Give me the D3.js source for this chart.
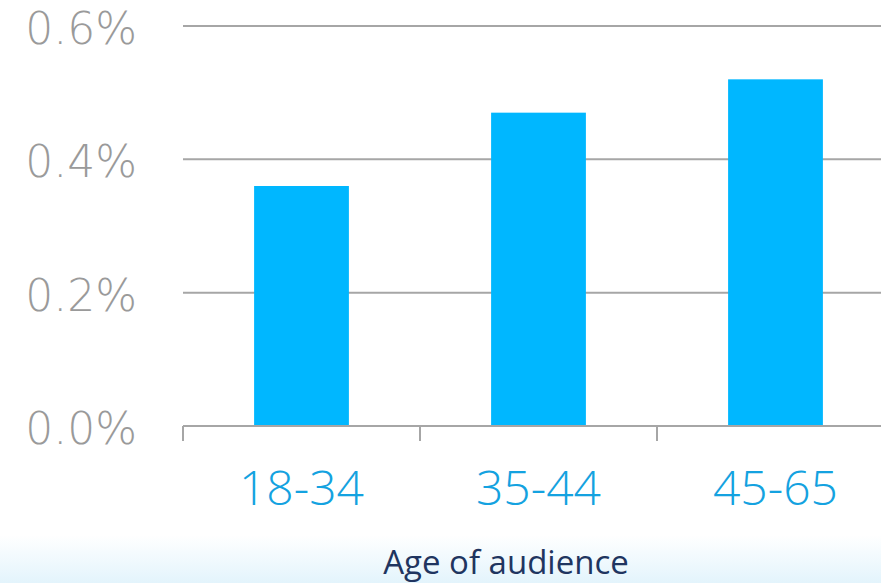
<!DOCTYPE html>
<html>
<head>
<meta charset="utf-8">
<script src="https://cdn.jsdelivr.net/npm/d3@7"></script>
<style>
    body { margin: 0; background: #fff; }
    svg { display: block; }
    .ylabel { font-family: "DejaVu Sans", sans-serif; font-weight: 200; fill: #9a9a9a; }
    .xlabel { font-family: "Open Sans", sans-serif; font-weight: 300; fill: #14a2e0; }
    .axistitle { font-family: "Open Sans", sans-serif; font-weight: 400; fill: #1f3560; }
</style>
</head>
<body>
<div id="vis"></div>
<script>

// Data ------------------------------------------------------------------------

const AGE_GROUPS = ["18-34", "35-44", "45-65"];
const SHARE = [0.36, 0.47, 0.52];
const Y_TICKS = [0, 0.2, 0.4, 0.6];

// Chart -----------------------------------------------------------------------

const W = 881;
const H = 583;
const margin = {top: 26, right: -13, bottom: 157, left: 183};
const width = W - margin.left - margin.right;
const height = H - margin.top - margin.bottom;

const svg = d3.select("#vis")
    .append("svg")
    .attr("width", W)
    .attr("height", H);

// Soft blue fade along the bottom edge
const grad = svg.append("defs")
    .append("linearGradient")
    .attr("id", "fade")
    .attr("x1", 0).attr("y1", 0)
    .attr("x2", 0).attr("y2", 1);
grad.append("stop").attr("offset", "0%").attr("stop-color", "#ffffff");
grad.append("stop").attr("offset", "100%").attr("stop-color", "#e3f4fc");

svg.append("rect")
    .attr("x", 0)
    .attr("y", 535)
    .attr("width", W)
    .attr("height", H - 535)
    .attr("fill", "url(#fade)");

const vis = svg.append("g")
    .attr("transform", `translate(${margin.left},${margin.top})`);

const xscale = d3.scaleBand()
    .domain(AGE_GROUPS)
    .range([0, width])
    .paddingInner(0.6)
    .paddingOuter(0.3);

const yscale = d3.scaleLinear()
    .domain([0, 0.6])
    .range([height, 0]);

// Gridlines
vis.selectAll(".grid")
    .data(Y_TICKS.slice(1))
    .enter()
    .append("line")
    .attr("class", "grid")
    .attr("x1", 0)
    .attr("x2", width)
    .attr("y1", d => yscale(d))
    .attr("y2", d => yscale(d))
    .attr("stroke", "#a6a6a6")
    .attr("stroke-width", 2);

// Y labels
vis.selectAll(".ylabel")
    .data(Y_TICKS)
    .enter()
    .append("text")
    .attr("class", "ylabel")
    .attr("x", -46)
    .attr("y", d => yscale(d) + 18)
    .attr("text-anchor", "end")
    .style("font-size", "44px")
    .text(d => d.toFixed(1) + "%");

// Bars
vis.selectAll(".bar")
    .data(AGE_GROUPS)
    .enter()
    .append("rect")
    .attr("class", "bar")
    .attr("x", d => xscale(d))
    .attr("width", xscale.bandwidth())
    .attr("y", (d, i) => yscale(SHARE[i]))
    .attr("height", (d, i) => height - yscale(SHARE[i]))
    .attr("fill", "#00b7ff");

// X axis line and band boundary ticks
const xaxis = vis.append("g")
    .attr("transform", `translate(0,${height})`);

xaxis.append("line")
    .attr("x1", 0)
    .attr("x2", width)
    .attr("stroke", "#a6a6a6")
    .attr("stroke-width", 2);

xaxis.selectAll(".tick")
    .data(d3.range(AGE_GROUPS.length + 1))
    .enter()
    .append("line")
    .attr("class", "tick")
    .attr("x1", i => i * xscale.step())
    .attr("x2", i => i * xscale.step())
    .attr("y1", 0)
    .attr("y2", 15)
    .attr("stroke", "#a6a6a6")
    .attr("stroke-width", 2);

xaxis.selectAll(".xlabel")
    .data(AGE_GROUPS)
    .enter()
    .append("text")
    .attr("class", "xlabel")
    .attr("x", d => xscale(d) + xscale.bandwidth() / 2)
    .attr("y", 79)
    .attr("text-anchor", "middle")
    .style("font-size", "48px")
    .text(d => d);

// Axis title
svg.append("text")
    .attr("class", "axistitle")
    .attr("x", 506)
    .attr("y", 574)
    .attr("text-anchor", "middle")
    .style("font-size", "33px")
    .text("Age of audience");

</script>
</body>
</html>
